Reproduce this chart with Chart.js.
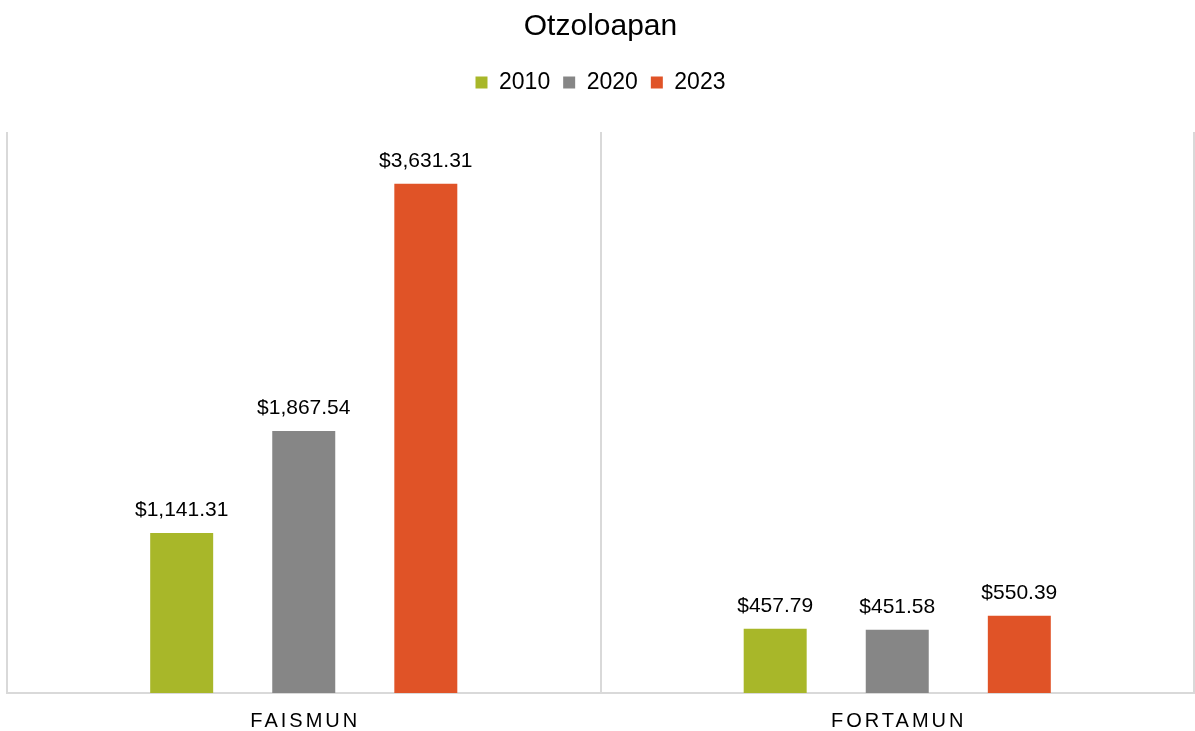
<!DOCTYPE html>
<html>
<head>
<meta charset="utf-8">
<script src="https://cdn.jsdelivr.net/npm/chart.js@4"></script>
<style>
  html, body { margin: 0; padding: 0; background: #fff; }
  #wrap { width: 1195px; height: 731px; }
</style>
</head>
<body>
<div id="wrap"><canvas id="grafico"></canvas></div>
<script>
// datos
const categorias = ['FAISMUN', 'FORTAMUN'];
const anios = ['2010', '2020', '2023'];
const valores2010 = [1141.31, 457.79];
const valores2020 = [1867.54, 451.58];
const valores2023 = [3631.31, 550.39];
const colores = ['#a8b729', '#868686', '#e05327'];

const fuente = '"Liberation Sans", Arial, sans-serif';

function formatoMoneda(v) {
    return '$' + v.toLocaleString('en-US', { minimumFractionDigits: 2, maximumFractionDigits: 2 });
}

// espacio extra debajo de la leyenda
const espacioLeyenda = {
    id: 'espacioLeyenda',
    beforeInit(chart) {
        const fitOriginal = chart.legend.fit;
        chart.legend.fit = function () {
            fitOriginal.call(this);
            this.height += 28;
        };
    }
};

// etiquetas de datos sobre cada barra
const etiquetasPlugin = {
    id: 'etiquetas',
    afterDatasetsDraw(chart) {
        const ctx = chart.ctx;
        ctx.save();
        ctx.font = '21px ' + fuente;
        ctx.fillStyle = '#000';
        ctx.textAlign = 'center';
        ctx.textBaseline = 'alphabetic';
        chart.data.datasets.forEach((ds, i) => {
            chart.getDatasetMeta(i).data.forEach((bar, j) => {
                ctx.fillText(formatoMoneda(ds.data[j]), bar.x, bar.y - 17);
            });
        });
        ctx.restore();
    },
    afterDraw(chart) {
        // nombres de categoria con espaciado entre letras
        const ctx = chart.ctx;
        const x = chart.scales.x;
        ctx.save();
        ctx.font = '20px ' + fuente;
        ctx.fillStyle = '#000';
        ctx.textAlign = 'center';
        ctx.textBaseline = 'alphabetic';
        ctx.letterSpacing = '3px';
        categorias.forEach((c, i) => {
            ctx.fillText(c, x.getPixelForTick(i) + 1.5, chart.chartArea.bottom + 34);
        });
        ctx.restore();
    }
};

new Chart(document.getElementById('grafico'), {
    type: 'bar',
    data: {
        labels: categorias,
        datasets: [
            { label: anios[0], data: valores2010, backgroundColor: colores[0] },
            { label: anios[1], data: valores2020, backgroundColor: colores[1] },
            { label: anios[2], data: valores2023, backgroundColor: colores[2] }
        ]
    },
    options: {
        responsive: true,
        maintainAspectRatio: false,
        animation: false,
        categoryPercentage: 0.617,
        barPercentage: 0.516,
        layout: { padding: { left: 7, right: 1, top: 0, bottom: 38 } },
        plugins: {
            title: {
                display: true,
                text: 'Otzoloapan',
                color: '#000',
                font: { family: fuente, size: 30, weight: 'normal' },
                padding: { top: 9, bottom: 13 }
            },
            legend: {
                display: true,
                labels: {
                    color: '#000',
                    font: { family: fuente, size: 23 },
                    boxWidth: 12,
                    boxHeight: 12,
                    padding: 13
                }
            },
            tooltip: { enabled: false }
        },
        scales: {
            x: {
                grid: { display: true, offset: true, color: '#d9d9d9', lineWidth: 2, drawTicks: false },
                border: { display: true, color: '#d9d9d9', width: 2 },
                ticks: { display: false }
            },
            y: {
                display: false,
                min: 0,
                max: 4000
            }
        }
    },
    plugins: [espacioLeyenda, etiquetasPlugin]
});
</script>
</body>
</html>
